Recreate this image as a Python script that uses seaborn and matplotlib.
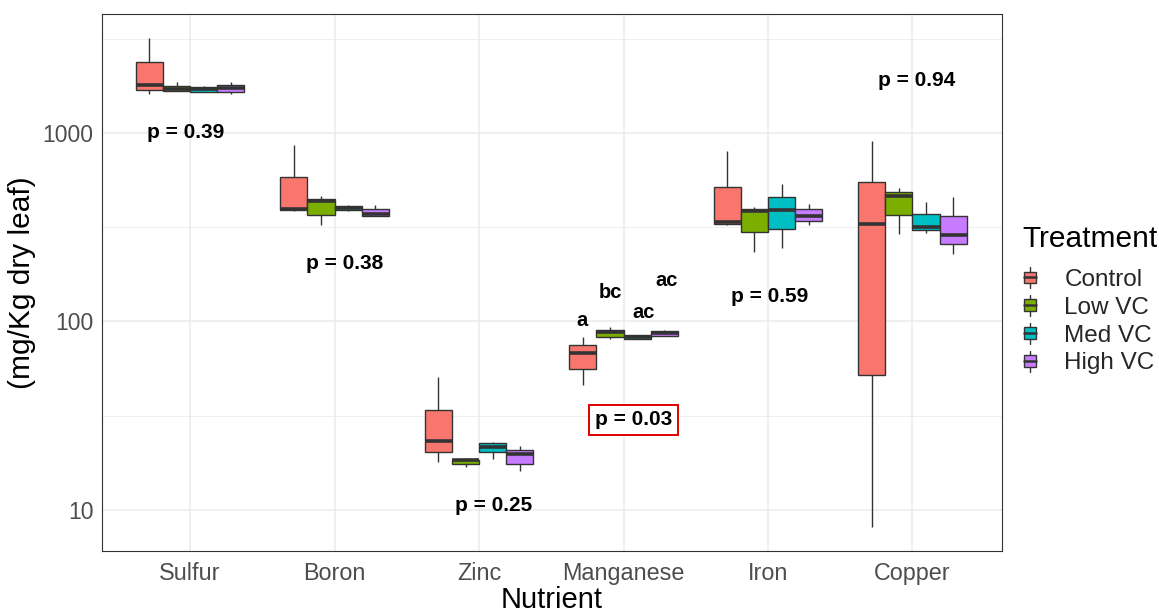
import numpy as np
import pandas as pd
import matplotlib
matplotlib.use("Agg")
import matplotlib.pyplot as plt
import seaborn as sns
from matplotlib.patches import Patch, Rectangle
from matplotlib.lines import Line2D
from matplotlib.legend_handler import HandlerBase
from matplotlib.ticker import FixedLocator, FuncFormatter, NullFormatter

# ---------------- data ----------------
nutrients = ["Sulfur", "Boron", "Zinc", "Manganese", "Iron", "Copper"]
treatments = ["Control", "Low VC", "Med VC", "High VC"]
colors = ["#F8766D", "#7CAE00", "#00BFC4", "#C77CFF"]

# per treatment: five observations (min, q1, median, q3, max) in mg/Kg
sulfur = [[1611, 1686, 1798, 2372, 3190],
          [1663, 1678, 1702, 1782, 1866],
          [1645, 1656, 1711, 1754, 1777],
          [1610, 1651, 1725, 1798, 1866]]
boron = [[386, 391, 395, 582, 863],
         [325, 367, 438, 446, 465],
         [386, 391, 400, 409, 415],
         [361, 364, 373, 394, 414]]
zinc = [[18.0, 20.2, 23.2, 34.0, 50.6],
        [16.8, 17.5, 18.3, 18.5, 18.9],
        [18.7, 20.2, 21.6, 22.5, 23.0],
        [16.1, 17.6, 19.7, 20.8, 21.8]]
manganese = [[46.0, 56.0, 67.8, 75.3, 83.0],
             [81.1, 83.0, 87.9, 90.2, 93.1],
             [80.5, 80.8, 82.3, 84.5, 85.2],
             [83.6, 84.1, 86.4, 89.1, 89.9]]
iron = [[324, 330, 336, 518, 803],
        [233, 299, 386, 394, 406],
        [246, 311, 392, 459, 538],
        [324, 339, 362, 394, 419]]
copper = [[8.15, 51.9, 330, 547, 904],
          [291, 366, 465, 486, 511],
          [294, 305, 316, 372, 431],
          [228, 257, 288, 364, 459]]

p_labels = ["p = 0.39", "p = 0.38", "p = 0.25", "p = 0.03", "p = 0.59", "p = 0.94"]
mn_letters = ["a", "bc", "ac", "ac"]

# ---------------- build long table ----------------
all_values = [sulfur, boron, zinc, manganese, iron, copper]
rows = []
for nut, groups in zip(nutrients, all_values):
    for trt, vals in zip(treatments, groups):
        for v in vals:
            rows.append({"Nutrient": nut, "Treatment": trt, "Value": v})
df = pd.DataFrame(rows)

# ---------------- styling ----------------
sns.set_style("white")
plt.rcParams["font.family"] = ["Liberation Sans", "DejaVu Sans"]

W, H = 1159, 613
fig = plt.figure(figsize=(W / 100, H / 100), dpi=100)
ax = fig.add_axes([102 / W, 1 - 551 / H, 900 / W, 537 / H])

sns.boxplot(data=df, x="Nutrient", y="Value", hue="Treatment",
            order=nutrients, hue_order=treatments, palette=colors,
            saturation=1, log_scale=(False, True), width=0.75, gap=0,
            linecolor="#333333", linewidth=1.0, showcaps=False,
            fliersize=0, whis=1.5, legend=False,
            medianprops=dict(linewidth=2.6, color="#333333"),
            ax=ax)

ax.set_ylim(6.05, 4276)
ax.set_xlim(-0.61, 5.62)

ax.yaxis.set_major_locator(FixedLocator([10, 100, 1000]))
ax.yaxis.set_major_formatter(FuncFormatter(lambda v, p: f"{v:g}"))
ax.yaxis.set_minor_locator(FixedLocator([10 ** (k + 0.5) for k in range(0, 4)]))
ax.yaxis.set_minor_formatter(NullFormatter())

ax.set_axisbelow(True)
ax.grid(which="major", axis="both", color="#EBEBEB", linewidth=1.1)
ax.grid(which="minor", axis="y", color="#EBEBEB", linewidth=0.55)

for s in ax.spines.values():
    s.set_visible(True)
    s.set_color("#333333")
    s.set_linewidth(0.8)

ax.tick_params(which="major", length=3.5, width=0.8, color="#333333",
               labelcolor="#4D4D4D", labelsize=16.5, pad=2.5)
ax.tick_params(which="minor", length=0)
ax.tick_params(axis="x", labelsize=16.8, pad=4.5)

ax.set_xlabel("Nutrient", fontsize=21, color="black", labelpad=1)
ax.set_ylabel("(mg/Kg dry leaf)", fontsize=21.5, color="black", labelpad=5)

# ---------------- annotations ----------------
p_pos = [(-0.03, 1000), (1.07, 202), (2.10, 10.5), (3.07, 30), (4.01, 135), (5.03, 1888)]
for lab, (xx, yy) in zip(p_labels, p_pos):
    kw = {}
    if lab == "p = 0.03":
        kw["bbox"] = dict(boxstyle="square,pad=0.28", fc="white", ec="#E00000", lw=1.4)
    ax.text(xx, yy, lab, ha="center", va="center", fontsize=15,
            fontweight="bold", color="black", **kw)

letter_pos = [(2.71, 101), (2.91, 143), (3.14, 111), (3.30, 164)]
for lab, (xx, yy) in zip(mn_letters, letter_pos):
    ax.text(xx, yy, lab, ha="center", va="center", fontsize=14.5,
            fontweight="bold", color="black")

# ---------------- legend ----------------
class BoxHandler(HandlerBase):
    def create_artists(self, legend, orig_handle, xdescent, ydescent,
                       width, height, fontsize, trans):
        x0, y0 = -xdescent, -ydescent
        fc = orig_handle.get_facecolor()
        cx = x0 + width / 2
        rect = Rectangle((x0 + 0.05 * width, y0 + 0.22 * height), 0.9 * width, 0.56 * height,
                         facecolor=fc, edgecolor="#333333", lw=1.0, transform=trans)
        med = Line2D([x0 + 0.05 * width, x0 + 0.95 * width], [y0 + 0.5 * height] * 2,
                     color="#333333", lw=1.8, transform=trans)
        w1 = Line2D([cx, cx], [y0, y0 + 0.22 * height], color="#333333", lw=1.0, transform=trans)
        w2 = Line2D([cx, cx], [y0 + 0.78 * height, y0 + height], color="#333333", lw=1.0, transform=trans)
        return [w1, w2, rect, med]

fig.text(1022 / W, 1 - 239 / H, "Treatment", ha="left", va="center",
         fontsize=21.5, color="black")

handles = [Patch(facecolor=c, label=t) for c, t in zip(colors, treatments)]
leg = ax.legend(handles=handles, loc="upper left",
                bbox_to_anchor=(1023 / W, 1 - 267 / H), bbox_transform=fig.transFigure,
                frameon=False, fontsize=17.5,
                handler_map={Patch: BoxHandler()}, handlelength=0.55, handleheight=0.95,
                handletextpad=1.15, labelspacing=0.165, borderpad=0, borderaxespad=0)

fig.savefig("out.png", dpi=100)
